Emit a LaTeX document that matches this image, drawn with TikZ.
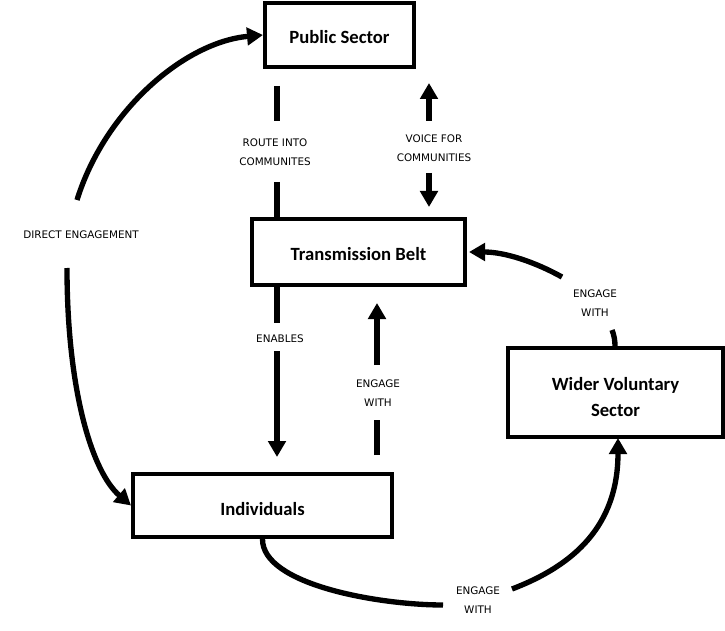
\documentclass[tikz,border=0pt]{standalone}
\usepackage{fontspec}
\setmainfont{Carlito}
\newfontfamily\lblfont{DejaVu Sans}
\usetikzlibrary{arrows.meta}
\begin{document}
\begin{tikzpicture}[x=0.75pt,y=-0.75pt,
  box/.style={draw, line width=3pt, inner sep=0pt, align=center,
    font=\bfseries\fontsize{14}{19.5}\selectfont},
  seg/.style={line width=4pt},
  conn/.style={line width=4pt, -{Triangle[length=12pt,width=13pt]}},
  lbl/.style={inner sep=0pt, align=center, font=\lblfont\fontsize{7.8}{14}\selectfont}]
\useasboundingbox (0,0) rectangle (725,631);
% boxes
\node[box, minimum width=111.75pt, minimum height=48pt] (ps) at (339.5,35) {\raisebox{-1.2pt}[\height][\depth]{Public Sector}};
\node[box, minimum width=159.75pt, minimum height=49.5pt] (tb) at (358.5,252) {\raisebox{-1.5pt}[\height][\depth]{Transmission Belt}};
\node[box, minimum width=194.25pt, minimum height=47.25pt] (ind) at (262.5,505.5) {\raisebox{-3pt}[\height][\depth]{Individuals}};
\node[box, minimum width=161.25pt, minimum height=66.75pt] (wv) at (615.5,392.5) {\raisebox{-4.5pt}[\height][\depth]{\begin{tabular}{@{}c@{}}Wider Voluntary\\Sector\end{tabular}}};
% labels
\node[lbl] (lde) at (81,235) {DIRECT ENGAGEMENT};
\node[lbl] (lric) at (275,152) {ROUTE INTO\\COMMUNITES};
\node[lbl] (lvfc) at (434,148) {VOICE FOR\\COMMUNITIES};
\node[lbl] (len) at (280,339) {ENABLES};
\node[lbl] (lew1) at (378,393) {ENGAGE\\WITH};
\node[lbl] (lew2) at (595,303) {ENGAGE\\WITH};
\node[lbl] (lew3) at (478,600) {ENGAGE\\WITH};
% coordinates
\coordinate (de1) at (77,200);
\coordinate (de2) at (67,268);
\coordinate (r1) at (277,86);
\coordinate (r2) at (277,121);
\coordinate (r3) at (277,182);
\coordinate (v1) at (429,83);
\coordinate (v2) at (429,121);
\coordinate (v3) at (429,173);
\coordinate (v4) at (429,207);
\coordinate (e1) at (277,323);
\coordinate (e2) at (277,351);
\coordinate (e3) at (277,457);
\coordinate (g1) at (377,455);
\coordinate (g2) at (377,420);
\coordinate (g3) at (377,365);
\coordinate (g4) at (377,303);
\coordinate (w1) at (612,330);
\coordinate (w2) at (562,277);
\coordinate (w3) at (469,252);
\coordinate (b1) at (443,605);
\coordinate (b2) at (512,589);
\coordinate (b3) at (618,438);
% connectors
\draw[conn] (de1) .. controls (105,110) and (185,42) .. (ps.west);
\draw[conn] (de2) .. controls (67,390) and (92,472) .. (ind.west);
\draw[seg] (r1) -- (r2);
\draw[seg] (r3) -- (r3 |- tb.north);
\draw[conn] (v2) -- (v1);
\draw[conn] (v3) -- (v4);
\draw[seg] (tb.south -| e1) -- (e1);
\draw[conn] (e2) -- (e3);
\draw[seg] (g1) -- (g2);
\draw[conn] (g3) -- (g4);
\draw[seg] (wv.north -| 615,0) .. controls (615,340) and (614,335) .. (w1);
\draw[conn] (w2) .. controls (535,262) and (505,252) .. (w3);
\draw[seg] (ind.south) .. controls (262,585) and (380,605) .. (b1);
\draw[conn] (b2) .. controls (575,565) and (618,525) .. (b3);
\end{tikzpicture}
\end{document}
